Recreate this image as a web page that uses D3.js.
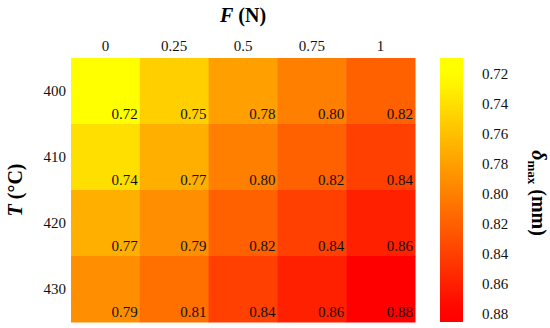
<html>
<script src='https://d3js.org/d3.v7.min.js'></script>
<style>
body {margin:0; background:white;}
text {font-family: "Liberation Serif", "DejaVu Serif", serif;}
</style>
<body>
<svg width=550 height=328></svg>
<script>
var forces = ["0", "0.25", "0.5", "0.75", "1"];
var temps = ["400", "410", "420", "430"];
// delta max (mm), one row per temperature
var row400 = [0.72, 0.75, 0.78, 0.80, 0.82];
var row410 = [0.74, 0.77, 0.80, 0.82, 0.84];
var row420 = [0.77, 0.79, 0.82, 0.84, 0.86];
var row430 = [0.79, 0.81, 0.84, 0.86, 0.88];
var barTicks = [0.72, 0.74, 0.76, 0.78, 0.80, 0.82, 0.84, 0.86, 0.88];

function draw() {
var rows = [row400, row410, row420, row430];
var cells = [];
rows.forEach(function(r, i) {
  r.forEach(function(v, j) {
    cells.push({t: temps[i], f: forces[j], v: v});
  });
});

var svg = d3.select("svg");
var mLeft = 71, mRight = 415, mTop = 58, mBottom = 322;

var x = d3.scaleBand().domain(forces).range([mLeft, mRight]);
var y = d3.scaleBand().domain(temps).range([mTop, mBottom]);

// yellow -> red (reversed autumn)
var color = d3.scaleLinear().domain([0.72, 0.88])
  .range(["#ffff00", "#ff0000"]).clamp(true);

svg.append("g").selectAll("rect")
  .data(cells).enter().append("rect")
  .attr("x", function(d) {return x(d.f);})
  .attr("y", function(d) {return y(d.t);})
  .attr("width", x.bandwidth() + 0.5)
  .attr("height", y.bandwidth() + 0.5)
  .style("fill", function(d) {return color(d.v);});

svg.append("g").selectAll("text")
  .data(cells).enter().append("text")
  .attr("x", function(d) {return x(d.f) + x.bandwidth() - 2;})
  .attr("y", function(d) {return y(d.t) + y.bandwidth() - 5;})
  .attr("text-anchor", "end")
  .style("font-size", "15px")
  .style("fill", "#111")
  .text(function(d) {return d.v.toFixed(2);});

// top axis
var gx = svg.append("g")
  .attr("transform", "translate(0," + mTop + ")")
  .call(d3.axisTop(x).tickSize(0).tickPadding(7));
gx.select(".domain").remove();
gx.selectAll("text").style("font-size", "15px").style("font-family", "Liberation Serif").style("fill", "#111");

// left axis
var gy = svg.append("g")
  .attr("transform", "translate(" + mLeft + ",0)")
  .call(d3.axisLeft(y).tickSize(0).tickPadding(5));
gy.select(".domain").remove();
gy.selectAll("text").style("font-size", "15px").style("font-family", "Liberation Serif").style("fill", "#111");

// titles
var ft = svg.append("text")
  .attr("x", 243).attr("y", 22)
  .attr("text-anchor", "middle")
  .style("font-size", "20px").style("font-weight", "bold");
ft.append("tspan").style("font-style", "italic").text("F");
ft.append("tspan").text(" (N)");

var tt = svg.append("text")
  .attr("transform", "translate(22,190) rotate(-90)")
  .attr("text-anchor", "middle")
  .style("font-size", "20px").style("font-weight", "bold");
tt.append("tspan").style("font-style", "italic").text("T");
tt.append("tspan").text(" (\u00b0C)");

// colour bar
var by = d3.scaleLinear().domain([0.72, 0.88]).range([74, 314]);
var defs = svg.append("defs");
var grad = defs.append("linearGradient").attr("id", "cbar")
  .attr("x1", 0).attr("y1", 0).attr("x2", 0).attr("y2", 1);
d3.range(0, 1.0001, 0.05).forEach(function(o) {
  grad.append("stop").attr("offset", o)
    .attr("stop-color", color(by.invert(mTop + o * (mBottom - mTop))));
});

svg.append("rect")
  .attr("x", 440).attr("y", mTop)
  .attr("width", 23).attr("height", mBottom - mTop)
  .style("fill", "url(#cbar)");

var gb = svg.append("g")
  .attr("transform", "translate(476,0)")
  .call(d3.axisRight(by).tickValues(barTicks).tickFormat(d3.format(".2f")).tickSize(0).tickPadding(6));
gb.select(".domain").remove();
gb.selectAll("text").style("font-size", "15px").style("font-family", "Liberation Serif").style("fill", "#111");

var bt = svg.append("text")
  .attr("transform", "translate(532,193) rotate(90)")
  .attr("text-anchor", "middle")
  .style("font-size", "20px").style("font-weight", "bold");
bt.append("tspan").style("font-style", "italic").text("\u03b4");
bt.append("tspan").attr("dy", 4).style("font-size", "13px").text("max");
bt.append("tspan").attr("dy", -4).text(" (mm)");
}
draw();
</script>
</body>
</html>
